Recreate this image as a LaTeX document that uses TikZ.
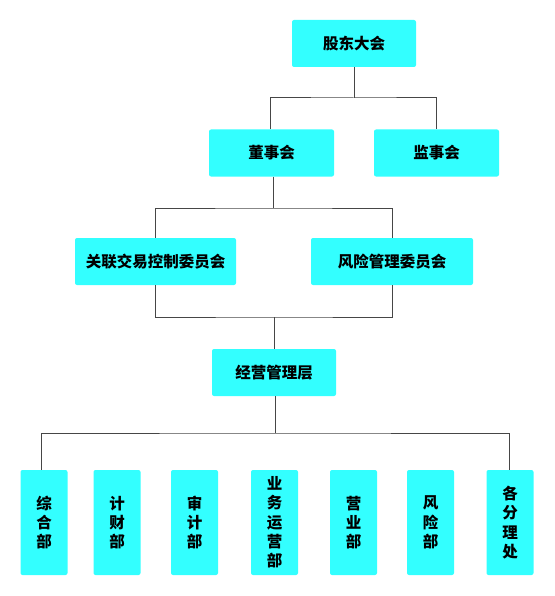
\documentclass[tikz,border=0pt]{standalone}
\usepackage{fontspec}
\newfontfamily\cjk{Noto Sans CJK SC}
\definecolor{boxcyan}{RGB}{51,255,255}
\definecolor{linegray}{RGB}{70,70,70}
\begin{document}
\begin{tikzpicture}[x=1pt,y=-1pt,
  box/.style={fill=boxcyan,draw=none,rounded corners=2pt,inner sep=0pt,
    font=\cjk\bfseries\fontsize{15.5}{19.3}\selectfont,align=center},
  wbox/.style={box,minimum width=#1,minimum height=47},
  vbox/.style={box,minimum width=47,minimum height=105},
  conn/.style={draw=linegray,line width=1pt}]
\useasboundingbox (0,0) rectangle (554,596);
\node[wbox=124] (gd) at (354,43.5) {股东大会};
\node[wbox=125] (ds) at (271.5,153) {董事会};
\node[wbox=125] (js) at (436.5,153) {监事会};
\node[wbox=161] (gl) at (155.5,261.5) {关联交易控制委员会};
\node[wbox=162] (fx) at (392,261.5) {风险管理委员会};
\node[wbox=124] (jy) at (274,372.5) {经营管理层};
\node[vbox] (b1) at (44,522.5) {综\\合\\部};
\node[vbox] (b2) at (117,522.5) {计\\财\\部};
\node[vbox] (b3) at (194.5,522.5) {审\\计\\部};
\node[vbox] (b4) at (274.5,522.5) {业\\务\\运\\营\\部};
\node[vbox] (b5) at (353.5,522.5) {营\\业\\部};
\node[vbox] (b6) at (430.5,522.5) {风\\险\\部};
\node[vbox] (b7) at (510,522.5) {各\\分\\理\\处};
\coordinate (j1) at (354,98);
\coordinate (j2) at (273.5,208);
\coordinate (j3) at (274.5,317);
\coordinate (j4) at (275,433);
% level 1
\draw[conn] (gd.south) -- (j1);
\draw[conn] ([xshift=-1.5pt]ds.north) |- (j1) -| (js.north);
% level 2
\draw[conn] ([xshift=2pt]ds.south) -- (j2);
\draw[conn] (gl.north) |- (j2) -| (fx.north);
% level 3
\draw[conn] (gl.south) |- (j3) -| (fx.south);
\draw[conn] (j3) -- ([xshift=0.5pt]jy.north);
% level 4
\draw[conn] ([xshift=1pt]jy.south) -- (j4);
\draw[conn] ([xshift=-2.7pt]b1.north) |- (j4) -| ([xshift=-1pt]b7.north);
\end{tikzpicture}
\end{document}
